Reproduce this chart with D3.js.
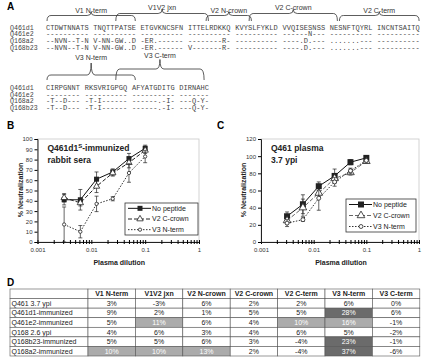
<!DOCTYPE html>
<html>
<head>
<meta charset="utf-8">
<script src="https://cdn.jsdelivr.net/npm/d3@7"></script>
<style>
  body { margin: 0; background: #fff; }
  svg { display: block; font-family: "Liberation Sans", Arial, sans-serif; }
</style>
</head>
<body>
<svg width="423" height="360"></svg>
<script>
// ---- panel A: alignment ----
var seqNames = ['Q461d1', 'Q461e2', 'Q168a2', 'Q168b23'];
var seqBlock1 = [
  'CTDWTNNATS TNQTTPATSE ETGVKNCSFN ITTELRDKKQ KVYSLFYKLD VVQISESNSS NESNFTQYRL INCNTSAITQ',
  '---------- ---------- ---------- ---------- ---------- ------N--- ---------- ----------',
  '--NVN--T-N V-NN-GW..D -ER.------ --------R- ---------- ----.D.--- .......--- ----------',
  '--NVN--T-N V-NN-GW..D -ER.------ V-------R- ---------- ----.D.--- .......--- ----------'
];
var seqBlock2 = [
  'CIRPGNNT RKSVRIGPGQ AFYATGDITG DIRNAHC',
  '-------- ---------- ---------- -------',
  '-T--D--- -T-I------ ------.-I- ---Q-Y-',
  '-T--D--- -T-I------ ------.-I- ---Q-Y-'
];
// peptide regions as character column ranges
var regions1 = [
  { name: 'V1 N-term', from: 0, to: 21 },
  { name: 'V1V2 jxn', from: 16, to: 38 },
  { name: 'V2 N-crown', from: 37, to: 48 },
  { name: 'V2 C-crown', from: 47, to: 68 },
  { name: 'V2 C-term', from: 68, to: 87 }
];
var regions2 = [
  { name: 'V3 N-term', from: 0, to: 21 },
  { name: 'V3 C-term', from: 16, to: 37 }
];

// ---- panels B and C: neutralization curves ----
var dilutions = [0.003125, 0.00625, 0.0125, 0.025, 0.05, 0.1];
var seriesNames = ['No peptide', 'V2 C-crown', 'V3 N-term'];
var rabbitMean = [[41, 41, 61, 68, 81, 91], [43, 38, 54, 67, 77, 89], [17, 10, 37, 42, 67, 83]];
var rabbitErr = [[5, 10, 7, 3, 5, 3], [4, 3, 6, 3, 5, 3], [17, 6, 7.5, 2, 9, 6]];
var plasmaMean = [[30, 44, 65, 77, 93, 98], [25, 40, 57, 74, 81, 94], [22, 26, 51, 70, 83, 95]];
var plasmaErr = [[5, 11, 5, 8, 3, 2], [4, 10, 6, 5, 3, 2], [4, 2, 14, 5, 3, 2]];

// ---- panel D: table ----
var tableCols = ['V1 N-term', 'V1V2 jxn', 'V2 N-crown', 'V2 C-crown', 'V2 C-term', 'V3 N-term', 'V3 C-term'];
var tableRows = ['Q461 3.7 ypi', 'Q461d1-immunized', 'Q461e2-immunized', 'Q168 2.6 ypi', 'Q168b23-immunized', 'Q168a2-immunized'];
var tableValues = [
  [3, -3, 6, 2, 2, 6, 0],
  [9, 2, 1, 5, 5, 28, 6],
  [5, 11, 6, 4, 10, 16, -1],
  [4, 6, 3, 4, 6, 5, -2],
  [5, 5, 6, 3, -4, 23, -1],
  [10, 10, 13, 2, -4, 37, -6]
];

var svg = d3.select('svg');

// panel letters
svg.selectAll('text.letter')
  .data([['A', 7, 10], ['B', 7, 129], ['C', 217, 129], ['D', 7, 286]])
  .enter().append('text')
  .attr('class', 'letter')
  .attr('x', function(d) { return d[1]; })
  .attr('y', function(d) { return d[2]; })
  .style('font-weight', 'bold')
  .style('font-size', '10px')
  .text(function(d) { return d[0]; });

// ---------- A ----------
var charX = d3.scaleLinear().domain([0, 1]).range([46, 46 + 4.3]);

function drawBlock(rows, regions, rowY, brace) {
  var g = svg.append('g');
  rows.forEach(function(row, i) {
    g.append('text')
      .attr('x', 10)
      .attr('y', rowY(i))
      .style('font-family', '"Liberation Mono", "DejaVu Sans Mono", monospace')
      .style('font-size', '6.6px')
      .style('fill', '#444')
      .text(seqNames[i]);
    var groups = row.split(' ');
    var col = 0;
    groups.forEach(function(grp) {
      g.append('text')
        .attr('x', charX(col))
        .attr('y', rowY(i))
        .attr('textLength', grp.length * 4.3 - 0.4)
        .style('font-family', '"Liberation Mono", "DejaVu Sans Mono", monospace')
        .style('font-size', '7px')
        .style('fill', '#444')
        .text(grp);
      col += grp.length + 1;
    });
  });

  regions.forEach(function(r, i) {
    var b = i % 2 === 0 ? brace.low : brace.high;
    var x0 = charX(r.from) + 1, x1 = charX(r.to) - 1, xm = (x0 + x1) / 2, rr = 4;
    var p = d3.path();
    p.moveTo(x0, brace.arm);
    p.quadraticCurveTo(x0, b.bar, x0 + rr, b.bar);
    p.lineTo(xm - rr, b.bar);
    p.quadraticCurveTo(xm, b.bar, xm, b.tip);
    p.quadraticCurveTo(xm, b.bar, xm + rr, b.bar);
    p.lineTo(x1 - rr, b.bar);
    p.quadraticCurveTo(x1, b.bar, x1, brace.arm);
    g.append('path')
      .attr('d', p.toString())
      .attr('fill', 'none')
      .attr('stroke', '#333')
      .attr('stroke-width', 0.8);
    g.append('text')
      .attr('x', xm)
      .attr('y', b.label)
      .attr('text-anchor', 'middle')
      .style('font-size', '7px')
      .style('fill', '#333')
      .text(r.name);
  });
}

drawBlock(seqBlock1, regions1, function(i) { return 29.5 + i * 6.7; },
  { arm: 21, low: { bar: 15.5, tip: 12, label: 13 }, high: { bar: 13.5, tip: 9.5, label: 9.5 } });
drawBlock(seqBlock2, regions2, function(i) { return 90 + i * 6.7; },
  { arm: 80, low: { bar: 75, tip: 63, label: 60 }, high: { bar: 69, tip: 59.5, label: 57.5 } });

// ---------- B and C ----------
var seriesStyle = [
  { dash: null, symbol: 'square' },
  { dash: '4,2', symbol: 'triangle' },
  { dash: '1.5,1.5', symbol: 'circle' }
];

function marker(sel, kind, size) {
  if (kind === 'square') {
    sel.append('rect')
      .attr('x', -size / 2).attr('y', -size / 2)
      .attr('width', size).attr('height', size)
      .attr('fill', '#222');
  } else if (kind === 'triangle') {
    sel.append('path')
      .attr('d', d3.symbol(d3.symbolTriangle, size * size * 0.7)())
      .attr('fill', '#fff').attr('stroke', '#222').attr('stroke-width', 0.8);
  } else {
    sel.append('circle')
      .attr('r', size * 0.33)
      .attr('fill', '#fff').attr('stroke', '#222').attr('stroke-width', 0.8);
  }
}

function drawPanel(cfg) {
  var g = svg.append('g');
  var x = d3.scaleLog().domain([0.001, 1]).range([cfg.left, cfg.right]);
  var y = d3.scaleLinear().domain([0, cfg.yMax]).range([242, 139]);

  g.append('rect')
    .attr('x', cfg.left).attr('y', 139)
    .attr('width', cfg.right - cfg.left).attr('height', 103)
    .attr('fill', 'none').attr('stroke', '#c8c8c8').attr('stroke-width', 0.8);

  var minor = [];
  [0.001, 0.01, 0.1].forEach(function(dec) {
    d3.range(1, 10).forEach(function(k) { minor.push(dec * k); });
  });
  minor.push(1);

  var xAxis = g.append('g')
    .attr('transform', 'translate(0,242)')
    .call(d3.axisBottom(x)
      .tickValues(minor)
      .tickSize(2)
      .tickPadding(5)
      .tickFormat(function(d) {
        var l = Math.log10(d);
        return Math.abs(l - Math.round(l)) < 1e-9 ? String(d) : '';
      }));
  xAxis.selectAll('.tick line').attr('y1', -2).attr('y2', 2);
  xAxis.selectAll('.tick text').style('font-size', '6px').style('fill', '#333').attr('dy', '0.5em');
  xAxis.select('.domain').attr('stroke', '#222');

  var yAxis = g.append('g')
    .attr('transform', 'translate(' + cfg.left + ',0)')
    .call(d3.axisLeft(y)
      .tickValues(d3.range(0, cfg.yMax + 1, cfg.step))
      .tickSize(3)
      .tickPadding(2));
  yAxis.selectAll('text').style('font-size', '6px').style('fill', '#333');
  yAxis.select('.domain').attr('stroke', '#222');

  g.append('text')
    .attr('x', (cfg.left + cfg.right) / 2 + 1)
    .attr('y', 265)
    .attr('text-anchor', 'middle')
    .style('font-size', '7px').style('font-weight', 'bold').style('fill', '#222')
    .text('Plasma dilution');
  g.append('text')
    .attr('transform', 'translate(' + (cfg.left - 15) + ',190) rotate(-90)')
    .attr('text-anchor', 'middle')
    .style('font-size', '7px').style('font-weight', 'bold').style('fill', '#222')
    .text('% Neutralization');

  var title = g.append('text')
    .attr('x', cfg.left + 10)
    .style('font-size', '8.5px').style('font-weight', 'bold').style('fill', '#222');
  cfg.title.forEach(function(line, i) {
    var t = title.append('tspan').attr('x', cfg.left + 10).attr('y', 151 + i * 12);
    if (line.sup) {
      t.text(line.text);
      title.append('tspan').attr('dy', -3).style('font-size', '6px').text(line.sup);
      title.append('tspan').attr('dy', 3).text(line.rest);
    } else {
      t.text(line.text);
    }
  });

  var line = d3.line()
    .x(function(d) { return x(d[0]); })
    .y(function(d) { return y(d[1]); });

  cfg.mean.forEach(function(vals, s) {
    var pts = dilutions.map(function(d, i) { return [d, vals[i], cfg.err[s][i]]; });
    var sg = g.append('g');
    sg.append('path')
      .attr('d', line(pts))
      .attr('fill', 'none')
      .attr('stroke', cfg.lineColor[s])
      .attr('stroke-width', 1)
      .attr('stroke-dasharray', seriesStyle[s].dash);
    pts.forEach(function(p) {
      var px = x(p[0]), lo = y(Math.max(0, p[1] - p[2])), hi = y(p[1] + p[2]);
      sg.append('path')
        .attr('d', 'M' + px + ',' + lo + 'V' + hi +
          'M' + (px - 2) + ',' + lo + 'H' + (px + 2) +
          'M' + (px - 2) + ',' + hi + 'H' + (px + 2))
        .attr('stroke', '#222').attr('stroke-width', 0.7).attr('fill', 'none');
    });
    pts.forEach(function(p) {
      var m = sg.append('g').attr('transform', 'translate(' + x(p[0]) + ',' + y(p[1]) + ')');
      marker(m, seriesStyle[s].symbol, cfg.markerSize);
    });
  });

  // legend
  var lg = g.append('g').attr('transform', 'translate(' + cfg.legend[0] + ',' + cfg.legend[1] + ')');
  lg.append('rect')
    .attr('width', cfg.legend[2]).attr('height', cfg.legend[3])
    .attr('fill', '#fff').attr('stroke', '#333').attr('stroke-width', 0.8);
  seriesNames.forEach(function(name, s) {
    var ly = cfg.legend[3] / 6 * (2 * s + 1);
    lg.append('line')
      .attr('x1', 3).attr('x2', 26).attr('y1', ly).attr('y2', ly)
      .attr('stroke', cfg.lineColor[s]).attr('stroke-width', 1)
      .attr('stroke-dasharray', seriesStyle[s].dash);
    var m = lg.append('g').attr('transform', 'translate(15,' + ly + ')');
    marker(m, seriesStyle[s].symbol, cfg.markerSize);
    lg.append('text')
      .attr('x', 27).attr('y', ly + 2.3)
      .style('font-size', '7px').style('fill', '#222')
      .text(name);
  });
}

drawPanel({
  left: 37.5, right: 199, yMax: 100, step: 10,
  mean: rabbitMean, err: rabbitErr, markerSize: 5,
  lineColor: ['#111', '#222', '#333'],
  title: [{ text: 'Q461d1', sup: 'S', rest: '-immunized' }, { text: 'rabbit sera' }],
  legend: [125, 203, 73, 32]
});
drawPanel({
  left: 261, right: 419, yMax: 120, step: 20,
  mean: plasmaMean, err: plasmaErr, markerSize: 6,
  lineColor: ['#111', '#666', '#333'],
  title: [{ text: 'Q461 plasma' }, { text: '3.7 ypi' }],
  legend: [346, 199, 70, 33]
});

// ---------- D ----------
var colEdges = [10, 88];
tableCols.forEach(function(c, i) { colEdges.push(88 + (i + 1) * 47.4); });
var rowY = d3.scaleBand().domain(d3.range(tableRows.length + 1)).range([289, 356]);

var tg = svg.append('g');
var cells = [];
cells.push({ r: 0, c: 0, text: '', bold: true });
tableCols.forEach(function(name, c) { cells.push({ r: 0, c: c + 1, text: name, bold: true }); });
tableRows.forEach(function(name, r) {
  cells.push({ r: r + 1, c: 0, text: name, left: true });
  tableValues[r].forEach(function(v, c) {
    cells.push({ r: r + 1, c: c + 1, text: v + '%', value: v });
  });
});

function shade(v) {
  if (v === undefined) return '#fff';
  if (v >= 20) return '#6b6b6b';
  if (v >= 10) return '#ababab';
  return '#fff';
}

var cell = tg.selectAll('g.cell').data(cells).enter().append('g').attr('class', 'cell');
cell.append('rect')
  .attr('x', function(d) { return colEdges[d.c]; })
  .attr('y', function(d) { return rowY(d.r); })
  .attr('width', function(d) { return colEdges[d.c + 1] - colEdges[d.c]; })
  .attr('height', rowY.bandwidth())
  .attr('fill', function(d) { return shade(d.value); })
  .attr('stroke', '#555')
  .attr('stroke-width', 0.6);
cell.append('text')
  .attr('x', function(d) { return d.left ? colEdges[d.c] + 1.5 : (colEdges[d.c] + colEdges[d.c + 1]) / 2; })
  .attr('y', function(d) { return rowY(d.r) + rowY.bandwidth() / 2 + 2.5; })
  .attr('text-anchor', function(d) { return d.left ? 'start' : 'middle'; })
  .style('font-size', '7px')
  .style('font-weight', function(d) { return d.bold ? 'bold' : 'normal'; })
  .style('fill', function(d) { return d.value !== undefined && d.value >= 10 ? '#fff' : '#222'; })
  .text(function(d) { return d.text; });
</script>
</body>
</html>
